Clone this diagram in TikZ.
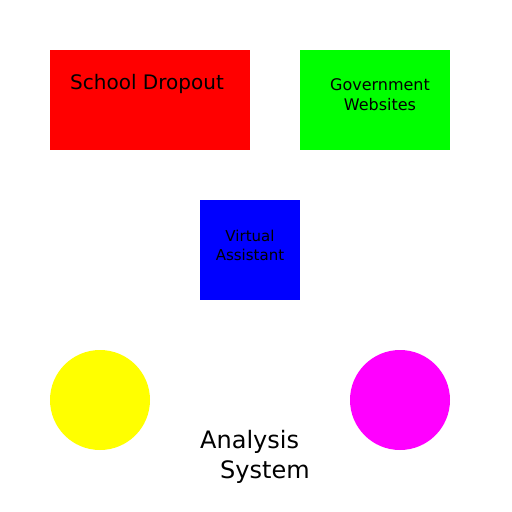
\documentclass[tikz,border=0pt]{standalone}
\usepackage{fontspec}
\setmainfont{DejaVu Sans}
\usepackage{xcolor}
\definecolor{dropoutred}{RGB}{255,0,0}
\definecolor{govgreen}{RGB}{0,255,0}
\definecolor{assistblue}{RGB}{0,0,255}
\definecolor{leftyellow}{RGB}{255,255,0}
\definecolor{rightmagenta}{RGB}{255,0,255}

\begin{document}
\begin{tikzpicture}[x=1pt,y=-1pt,
    box/.style={rectangle,inner sep=0pt,draw=none},
    blob/.style={circle,inner sep=0pt,minimum size=100pt,draw=none},
    lbl/.style={inner sep=0pt,align=center}]
            \useasboundingbox (0,0) rectangle (512,512);
            \node[box,fill=dropoutred,minimum width=200pt,minimum height=100pt] (dropout) at (150,100) {};
            \node[box,fill=govgreen,minimum width=150pt,minimum height=100pt] (govsites) at (375,100) {};
            \node[box,fill=assistblue,minimum width=100pt,minimum height=100pt] (assistant) at (250,250) {};
            \node[blob,fill=leftyellow] (left) at (100,400) {};
            \node[blob,fill=rightmagenta] (right) at (400,400) {};
            \node[lbl,font=\fontsize{20}{25}\selectfont] (dropouttext) at (147,84) {School Dropout};
            \node[lbl,font=\fontsize{16}{20}\selectfont] (govtext) at (380,95) {Government\\Websites};
            \node[lbl,font=\fontsize{15}{19}\selectfont] (assisttext) at (250,245) {Virtual\\Assistant};
            \node[lbl,align=left,anchor=west,font=\fontsize{24}{30}\selectfont] (analysis) at (200,457) {Analysis\\\hspace*{20pt}System};
            \end{tikzpicture}
\end{document}
